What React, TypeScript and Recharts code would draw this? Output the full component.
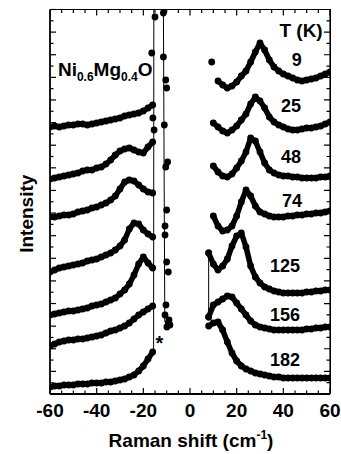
import React from "react";
import { ComposedChart, Scatter, XAxis, YAxis } from "recharts";

const FONT = "'Liberation Sans', Arial, Helvetica, sans-serif";

// Raman shift grids (cm^-1) for the two sides of the laser line
const shiftLeft = [
  -60, -58, -56, -54, -52, -50, -48, -46, -44, -42, -40, -38, -36, -34, -32,
  -30, -28, -26, -24, -22, -20, -18, -16,
];
const shiftRight = [
  8, 10, 12, 14, 16, 18, 20, 22, 24, 26, 28, 30, 32, 34, 36, 38, 40, 42, 44,
  46, 48, 50, 52, 54, 56, 58, 60,
];

const temps = ["9", "25", "48", "74", "125", "156", "182"];

// anti-Stokes side, stacked traces (arb. units), top trace first
const left9 = [267, 268, 267, 268, 269, 269, 270, 270, 269, 270, 271, 272, 273, 274, 275, 276, 278, 279, 280, 281, 283, 286, 289];
const left25 = [215, 216, 217, 218, 219, 220, 221, 223, 224, 224, 226, 227, 230, 234, 239, 243, 245, 246, 244, 242, 241, 247, 252];
const left48 = [177, 177, 178, 179, 179, 180, 182, 183, 184, 186, 187, 189, 191, 194, 198, 205, 212, 214, 213, 209, 205, 202, 201];
const left74 = [122, 124, 126, 127, 128, 129, 130, 131, 133, 134, 135, 137, 139, 141, 144, 148, 154, 165, 171, 170, 164, 160, 157];
const left125 = [79, 80, 81, 82, 83, 83, 84, 85, 86, 88, 89, 90, 92, 94, 96, 100, 104, 110, 119, 130, 137, 131, 126];
const left156 = [48, 50, 52, 53, 54, 54, 55, 55, 56, 57, 58, 59, 61, 63, 64, 66, 68, 71, 75, 79, 82, 85, 88];
const left182 = [7, 8, 8, 9, 9, 9, 10, 10, 10, 11, 11, 11, 12, 12, 13, 14, 15, 17, 19, 23, 28, 35, 42];

// Stokes side
const right9 = [null, null, 313, 309, 306, 308, 312, 318, 323, 332, 342, 351, 344, 334, 327, 323, 320, 318, 316, 314, 313, 314, 315, 316, 318, 320, 322];
const right25 = [null, 271, 267, 263, 261, 264, 268, 274, 280, 290, 297, 293, 286, 277, 272, 269, 267, 265, 264, 264, 265, 266, 266, 267, 268, 270, 272];
const right48 = [null, 228, 222, 218, 217, 220, 226, 233, 242, 256, 253, 242, 231, 224, 221, 219, 218, 218, 217, 217, 216, 216, 216, 216, 217, 217, 218];
const right74 = [null, 178, 168, 163, 164, 168, 178, 192, 204, 198, 188, 182, 180, 178, 177, 177, 177, 178, 178, 179, 179, 180, 180, 181, 181, 182, 183];
const right125 = [141, 130, 124, 128, 135, 148, 158, 161, 147, 128, 117, 111, 107, 105, 103, 102, 101, 101, 101, 101, 101, 102, 102, 103, 103, 104, 104];
const right156 = [77, 89, 92, 95, 98, 97, 91, 85, 79, 73, 69, 67, 66, 65, 64, 64, 64, 64, 64, 64, 64, 65, 65, 66, 66, 67, 67];
const right182 = [68, 71, 72, 64, 52, 41, 33, 28, 25, 23, 21, 20, 19, 18, 17, 17, 16, 16, 16, 16, 16, 16, 16, 16, 16, 16, 16];

// points near the laser line: [shift, intensity]
const edgeLineA = [[-15.6, 42], [-15.5, 384.5]];
const edgeDotsA = [[-15.0, 377], [-16.4, 341], [-15.9, 276], [-15.4, 264], [9.3, 332]];
const edgeLineB = [[-11.4, 384.5], [-10.8, 72]];
const edgeDotsB = [
  [-11.4, 381], [-11.4, 337], [-10.4, 314], [-10.0, 306], [-11.0, 269], [-9.6, 232],
  [-10.4, 227], [-10.0, 184], [-10.7, 168], [-10.7, 159], [-10.0, 132], [-9.3, 122],
  [-10.3, 89], [-10.7, 79], [-9.3, 71], [-8.6, 69], [-9.0, 74], [-9.9, 67],
];
const stokesJump = [[8, 141], [8, 77]];

// annotation anchors in data coords
const tempLabelAt = [[45.7, 334], [43.3, 288], [43.3, 237], [43.7, 193], [40.7, 128], [40.7, 79], [40.7, 34]];
const headerAt = [47.6, 364];
const sampleAt = [-56.6, 318];
const starAt = [-13.1, 44];

const X_MIN = -60;
const X_MAX = 60;
const Y_TOP = 384.5;
const xTicks = Array.from({ length: 25 }, (_, i) => X_MIN + i * 5);
const yTicks = Array.from({ length: 35 }, (_, i) => (i * Y_TOP) / 34);

const zip = (xs: number[], ys: (number | null)[]) =>
  xs.map((x, i) => ({ x, d: ys[i] })).filter((p) => p.d !== null);
const pairs = (arr: number[][]) => arr.map(([x, d]) => ({ x, d }));

const leftTraces = [left9, left25, left48, left74, left125, left156, left182];
const rightTraces = [right9, right25, right48, right74, right125, right156, right182];

const annotations = [
  { x: headerAt[0], d: headerAt[1], text: "T (K)", kind: "label" },
  ...temps.map((t, i) => ({ x: tempLabelAt[i][0], d: tempLabelAt[i][1], text: t, kind: "label" })),
  { x: sampleAt[0], d: sampleAt[1], text: "", kind: "sample" },
  { x: starAt[0], d: starAt[1], text: "*", kind: "star" },
];

// top and right frame edges drawn as combs (spine + inward ticks), in data units
const topComb = xTicks.flatMap((v) => {
  const len = v % 20 === 0 ? 6 : 3.5;
  return [{ x: v, d: Y_TOP }, { x: v, d: Y_TOP - len }, { x: v, d: Y_TOP }];
});
const rightComb = yTicks.flatMap((v, i) => {
  const len = i % 2 === 0 ? 2.6 : 1.5;
  return [{ x: X_MAX, d: v }, { x: X_MAX - len, d: v }, { x: X_MAX, d: v }];
});

const AXIS = { stroke: "#000", strokeWidth: 1.8 };
const TXT = { fontFamily: FONT, fontWeight: 700, fill: "#000" };
const BAND = { stroke: "#000", strokeWidth: 5.5, strokeLinejoin: "round" as const, strokeLinecap: "round" as const };

const Dot = (p: any) => <circle cx={p.cx} cy={p.cy} r={3.4} fill="#000" />;
const NoDot = () => <g />;

const Annotation = (p: any) => {
  const a = p.payload;
  if (a.kind === "sample") {
    return (
      <text x={p.cx} y={p.cy} {...TXT} fontSize={19} textAnchor="start">
        Ni
        <tspan fontSize={12} dy={5}>0.6</tspan>
        <tspan fontSize={19} dy={-5}>Mg</tspan>
        <tspan fontSize={12} dy={5}>0.4</tspan>
        <tspan fontSize={19} dy={-5}>O</tspan>
      </text>
    );
  }
  if (a.kind === "star") {
    return (
      <text x={p.cx} y={p.cy} {...TXT} fontSize={20} textAnchor="middle">
        *
      </text>
    );
  }
  return (
    <text x={p.cx} y={p.cy} {...TXT} fontSize={a.text === "T (K)" ? 19 : 18} textAnchor="middle" dominantBaseline="central">
      {a.text}
    </text>
  );
};

const BottomTick = (p: any) => {
  const v = p.payload.value;
  const major = v % 20 === 0;
  return (
    <g>
      <line x1={p.x} x2={p.x} y1={p.y} y2={p.y - (major ? 6 : 3.5)} stroke="#000" strokeWidth={1.2} />
      {major && (
        <text x={p.x} y={p.y + 23} {...TXT} fontSize={19} textAnchor="middle">
          {String(v)}
        </text>
      )}
    </g>
  );
};

const LeftTick = (p: any) => {
  const major = p.index % 2 === 0;
  return <line x1={p.x} x2={p.x + (major ? 6 : 3.5)} y1={p.y} y2={p.y} stroke="#000" strokeWidth={1.2} />;
};

const XTitle = (p: any) => {
  const vb = p.viewBox;
  return (
    <text x={vb.x + vb.width / 2 + 1} y={vb.y + 53} {...TXT} fontSize={19} textAnchor="middle">
      Raman shift (cm
      <tspan fontSize={12} dy={-8}>-1</tspan>
      <tspan fontSize={19} dy={8}>)</tspan>
    </text>
  );
};

const YTitle = (p: any) => {
  const vb = p.viewBox;
  const cx = vb.x + 18;
  const cy = vb.y + vb.height / 2 + 12;
  return (
    <text
      x={cx}
      y={cy}
      transform={`rotate(-90, ${cx}, ${cy})`}
      {...TXT}
      fontSize={19}
      textAnchor="middle"
      dominantBaseline="central"
    >
      Intensity
    </text>
  );
};

export default function App() {
  // fixed at the page corner so the body margin and scrollbars play no part
  return (
    <div style={{ position: "fixed", left: 0, top: 0, width: 341, height: 454, background: "#fff" }}>
      <ComposedChart width={341} height={454} margin={{ top: 9.5, right: 11, bottom: 0, left: 8 }}>
        <XAxis
          xAxisId="b"
          type="number"
          dataKey="x"
          domain={[X_MIN, X_MAX]}
          ticks={xTicks}
          interval={0}
          allowDataOverflow
          tickSize={0}
          tickMargin={0}
          tickLine={false}
          axisLine={AXIS}
          tick={BottomTick}
          height={60}
          label={<XTitle />}
        />
        <YAxis
          yAxisId="l"
          type="number"
          dataKey="d"
          domain={[0, Y_TOP]}
          ticks={yTicks}
          interval={0}
          allowDataOverflow
          tickSize={0}
          tickMargin={0}
          tickLine={false}
          axisLine={AXIS}
          tick={LeftTick}
          width={42}
          label={<YTitle />}
        />

        {/* thin connecting lines at the laser edge */}
        {[edgeLineA, edgeLineB, stokesJump].map((seg, i) => (
          <Scatter
            key={`seg-${i}`}
            xAxisId="b"
            yAxisId="l"
            data={pairs(seg)}
            line={{ stroke: "#000", strokeWidth: 1 }}
            shape={NoDot}
            isAnimationActive={false}
          />
        ))}

        {leftTraces.map((ys, i) => (
          <Scatter key={`as-${temps[i]}`} xAxisId="b" yAxisId="l" data={zip(shiftLeft, ys)} line={BAND} shape={Dot} isAnimationActive={false} />
        ))}
        {rightTraces.map((ys, i) => (
          <Scatter key={`s-${temps[i]}`} xAxisId="b" yAxisId="l" data={zip(shiftRight, ys)} line={BAND} shape={Dot} isAnimationActive={false} />
        ))}
        <Scatter xAxisId="b" yAxisId="l" data={pairs(edgeDotsA)} shape={Dot} isAnimationActive={false} />
        <Scatter xAxisId="b" yAxisId="l" data={pairs(edgeDotsB)} shape={Dot} isAnimationActive={false} />
        <Scatter xAxisId="b" yAxisId="l" data={pairs(stokesJump)} shape={Dot} isAnimationActive={false} />

        <Scatter xAxisId="b" yAxisId="l" data={annotations} shape={Annotation} isAnimationActive={false} />

        {/* inward ticks of the top and right frame edges */}
        <Scatter xAxisId="b" yAxisId="l" data={topComb} line={{ stroke: "#000", strokeWidth: 1.2 }} shape={NoDot} isAnimationActive={false} />
        <Scatter xAxisId="b" yAxisId="l" data={rightComb} line={{ stroke: "#000", strokeWidth: 1.2 }} shape={NoDot} isAnimationActive={false} />
      </ComposedChart>
      {/* top and right spines of the box frame */}
      <div
        style={{
          position: "absolute",
          left: 50,
          top: 8.6,
          width: 280.9,
          height: 385.4,
          borderTop: "1.8px solid #000",
          borderRight: "1.8px solid #000",
          boxSizing: "border-box",
          pointerEvents: "none",
        }}
      />
    </div>
  );
}
